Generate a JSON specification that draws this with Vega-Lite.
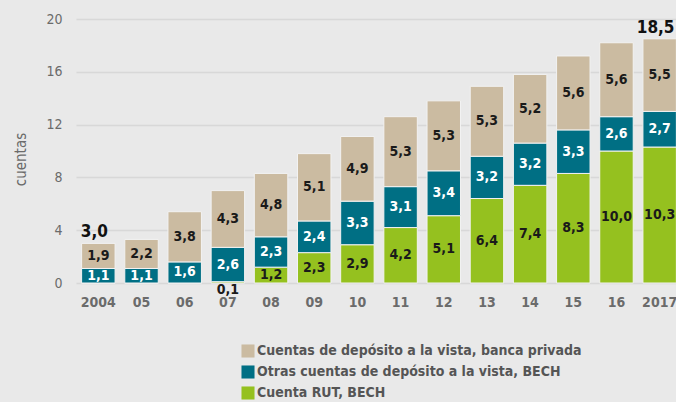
{
  "$schema": "https://vega.github.io/schema/vega-lite/v6.json",
  "autosize": {"type": "none"},
  "padding": {"left": 76, "top": 19, "right": 0, "bottom": 119},
  "width": 606,
  "height": 264,
  "background": "#e9e9e9",
  "config": {
    "view": {"stroke": null},
    "font": "DejaVu Sans Condensed, Roboto, sans-serif"
  },
  "data": {
    "values": [
      {"year": "2004", "serie": "Cuenta RUT, BECH", "value": 0},
      {"year": "2004", "serie": "Otras cuentas de depósito a la vista, BECH", "value": 1.1},
      {"year": "2004", "serie": "Cuentas de depósito a la vista, banca privada", "value": 1.9},
      {"year": "05", "serie": "Cuenta RUT, BECH", "value": 0},
      {"year": "05", "serie": "Otras cuentas de depósito a la vista, BECH", "value": 1.1},
      {"year": "05", "serie": "Cuentas de depósito a la vista, banca privada", "value": 2.2},
      {"year": "06", "serie": "Cuenta RUT, BECH", "value": 0},
      {"year": "06", "serie": "Otras cuentas de depósito a la vista, BECH", "value": 1.6},
      {"year": "06", "serie": "Cuentas de depósito a la vista, banca privada", "value": 3.8},
      {"year": "07", "serie": "Cuenta RUT, BECH", "value": 0.1},
      {"year": "07", "serie": "Otras cuentas de depósito a la vista, BECH", "value": 2.6},
      {"year": "07", "serie": "Cuentas de depósito a la vista, banca privada", "value": 4.3},
      {"year": "08", "serie": "Cuenta RUT, BECH", "value": 1.2},
      {"year": "08", "serie": "Otras cuentas de depósito a la vista, BECH", "value": 2.3},
      {"year": "08", "serie": "Cuentas de depósito a la vista, banca privada", "value": 4.8},
      {"year": "09", "serie": "Cuenta RUT, BECH", "value": 2.3},
      {"year": "09", "serie": "Otras cuentas de depósito a la vista, BECH", "value": 2.4},
      {"year": "09", "serie": "Cuentas de depósito a la vista, banca privada", "value": 5.1},
      {"year": "10", "serie": "Cuenta RUT, BECH", "value": 2.9},
      {"year": "10", "serie": "Otras cuentas de depósito a la vista, BECH", "value": 3.3},
      {"year": "10", "serie": "Cuentas de depósito a la vista, banca privada", "value": 4.9},
      {"year": "11", "serie": "Cuenta RUT, BECH", "value": 4.2},
      {"year": "11", "serie": "Otras cuentas de depósito a la vista, BECH", "value": 3.1},
      {"year": "11", "serie": "Cuentas de depósito a la vista, banca privada", "value": 5.3},
      {"year": "12", "serie": "Cuenta RUT, BECH", "value": 5.1},
      {"year": "12", "serie": "Otras cuentas de depósito a la vista, BECH", "value": 3.4},
      {"year": "12", "serie": "Cuentas de depósito a la vista, banca privada", "value": 5.3},
      {"year": "13", "serie": "Cuenta RUT, BECH", "value": 6.4},
      {"year": "13", "serie": "Otras cuentas de depósito a la vista, BECH", "value": 3.2},
      {"year": "13", "serie": "Cuentas de depósito a la vista, banca privada", "value": 5.3},
      {"year": "14", "serie": "Cuenta RUT, BECH", "value": 7.4},
      {"year": "14", "serie": "Otras cuentas de depósito a la vista, BECH", "value": 3.2},
      {"year": "14", "serie": "Cuentas de depósito a la vista, banca privada", "value": 5.2},
      {"year": "15", "serie": "Cuenta RUT, BECH", "value": 8.3},
      {"year": "15", "serie": "Otras cuentas de depósito a la vista, BECH", "value": 3.3},
      {"year": "15", "serie": "Cuentas de depósito a la vista, banca privada", "value": 5.6},
      {"year": "16", "serie": "Cuenta RUT, BECH", "value": 10.0},
      {"year": "16", "serie": "Otras cuentas de depósito a la vista, BECH", "value": 2.6},
      {"year": "16", "serie": "Cuentas de depósito a la vista, banca privada", "value": 5.6},
      {"year": "2017", "serie": "Cuenta RUT, BECH", "value": 10.3},
      {"year": "2017", "serie": "Otras cuentas de depósito a la vista, BECH", "value": 2.7},
      {"year": "2017", "serie": "Cuentas de depósito a la vista, banca privada", "value": 5.5}
    ]
  },
  "transform": [
    {"calculate": "indexof(['Cuenta RUT, BECH','Otras cuentas de depósito a la vista, BECH','Cuentas de depósito a la vista, banca privada'], datum.serie)", "as": "orden"},
    {"calculate": "replace(format(datum.value, '.1f'), '.', ',')", "as": "lbl"},
    {"stack": "value", "groupby": ["year"], "sort": [{"field": "orden", "order": "ascending"}], "as": ["v0", "v1"]},
    {"calculate": "(datum.v0 + datum.v1) / 2", "as": "vmid"}
  ],
  "encoding": {
    "x": {
      "field": "year",
      "type": "ordinal",
      "sort": null,
      "scale": {"paddingInner": 0.225, "paddingOuter": 0.13},
      "axis": {
        "title": null,
        "labelAngle": 0,
        "labelFontSize": 14,
        "labelFontWeight": "bold",
        "labelColor": "#6b6b6b",
        "labelPadding": 12,
        "ticks": false,
        "domain": false
      }
    }
  },
  "layer": [
    {
      "mark": {"type": "bar", "stroke": "#f2f2f2", "strokeWidth": 1},
      "encoding": {
        "y": {
          "field": "v0",
          "type": "quantitative",
          "scale": {"domain": [0, 20], "nice": false},
          "axis": {
            "values": [0, 4, 8, 12, 16, 20],
            "title": "cuentas",
            "titleFontSize": 15,
            "titleFontWeight": "normal",
            "titleColor": "#6b6b6b",
            "titlePadding": 17,
            "titleY": 140,
            "labelFontSize": 14,
            "labelFontWeight": "normal",
            "labelColor": "#6b6b6b",
            "labelPadding": 14,
            "ticks": false,
            "domain": false,
            "grid": true,
            "gridColor": "#d8d8d8",
            "gridWidth": 1.5
          }
        },
        "y2": {"field": "v1"},
        "color": {
          "field": "serie",
          "type": "nominal",
          "scale": {
            "domain": ["Cuentas de depósito a la vista, banca privada", "Otras cuentas de depósito a la vista, BECH", "Cuenta RUT, BECH"],
            "range": ["#cbbba1", "#006f84", "#95c11f"]
          },
          "legend": {
            "orient": "none",
            "legendX": 165,
            "legendY": 325,
            "title": null,
            "symbolType": "square",
            "symbolSize": 170,
            "symbolStrokeWidth": 0,
            "symbolOpacity": 1,
            "labelFontSize": 14,
            "labelFontWeight": "bold",
            "labelColor": "#555555",
            "labelLimit": 400,
            "labelOffset": 2,
            "rowPadding": 7
          }
        }
      }
    },
    {
      "transform": [{"filter": "datum.value >= 0.5"}],
      "mark": {"type": "text", "fontSize": 14, "fontWeight": "bold", "baseline": "middle"},
      "encoding": {
        "y": {"field": "vmid", "type": "quantitative"},
        "text": {"field": "lbl"},
        "color": {
          "condition": {"test": "datum.orden == 1", "value": "#ffffff"},
          "value": "#1a1a1a"
        }
      }
    },
    {
      "transform": [{"filter": "datum.value > 0 && datum.value < 0.5"}],
      "mark": {"type": "text", "fontSize": 14, "fontWeight": "bold", "baseline": "top", "dy": 0, "color": "#1a1a1a"},
      "encoding": {
        "y": {"field": "v0", "type": "quantitative"},
        "text": {"field": "lbl"}
      }
    },
    {
      "transform": [
        {"aggregate": [{"op": "sum", "field": "value", "as": "total"}], "groupby": ["year"]},
        {"filter": "datum.year == '2004' || datum.year == '2017'"},
        {"calculate": "replace(format(datum.total, '.1f'), '.', ',')", "as": "tlbl"}
      ],
      "mark": {"type": "text", "fontSize": 17, "fontWeight": "bold", "baseline": "bottom", "dy": -2, "dx": -4, "color": "#111111"},
      "encoding": {
        "y": {"field": "total", "type": "quantitative"},
        "text": {"field": "tlbl"}
      }
    }
  ]
}
